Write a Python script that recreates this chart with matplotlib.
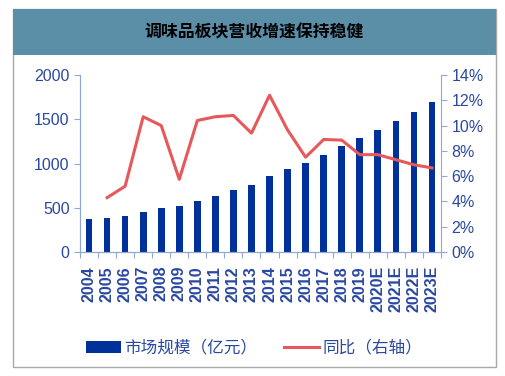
import matplotlib.pyplot as plt
import matplotlib.patches as mpatches
from matplotlib.ticker import FuncFormatter

plt.rcParams['font.family'] = ['Liberation Sans', 'Noto Sans CJK SC', 'DejaVu Sans']

anios = ['2004', '2005', '2006', '2007', '2008', '2009', '2010', '2011', '2012', '2013',
         '2014', '2015', '2016', '2017', '2018', '2019', '2020E', '2021E', '2022E', '2023E']
mercado = [370, 384, 407, 448, 493, 520, 573, 633, 697, 760,
           859, 941, 1009, 1096, 1194, 1285, 1382, 1484, 1582, 1692]
tasa = [None, 4.3, 5.2, 10.7, 10.0, 5.75, 10.4, 10.7, 10.8, 9.4,
        12.4, 9.65, 7.5, 8.9, 8.85, 7.7, 7.7, 7.3, 6.9, 6.65]

titulo = '调味品板块营收增速保持稳健'
etiqueta_barras = '市场规模（亿元）'
etiqueta_linea = '同比（右轴）'

color_barra = '#00309a'
color_linea = '#e8585a'
color_texto = '#2a48a2'
color_eje = '#8fa8d8'

W, H = 506, 376
fig = plt.figure(figsize=(W / 100, H / 100), dpi=100)

# marco y barra de titulo
fig.patches.append(mpatches.Rectangle((13 / W, 1 - 367 / H), 483 / W, 358 / H,
                                      transform=fig.transFigure, facecolor='white',
                                      edgecolor='#a8a8a8', linewidth=1, zorder=-2))
fig.patches.append(mpatches.Rectangle((13 / W, 1 - 55 / H), 483 / W, 46 / H,
                                      transform=fig.transFigure, facecolor='#5b8fa8',
                                      edgecolor='none', zorder=-1))
fig.text(254 / W, 1 - 33 / H, titulo, ha='center', va='center', fontsize=12.2,
         fontweight='bold', family=['Noto Sans CJK SC'], color='black')

ax = fig.add_axes([80 / W, 1 - 252 / H, 361 / W, 177 / H])
ax.patch.set_alpha(0)
x = list(range(len(anios)))
barras = ax.bar(x, mercado, width=0.37, color=color_barra, label=etiqueta_barras)
ax.set_xlim(-0.5, len(anios) - 0.5)
ax.set_ylim(0, 2000)
ax.set_yticks([0, 500, 1000, 1500, 2000])
ax.set_xticks([i - 0.5 for i in range(len(anios) + 1)], minor=False)
ax.set_xticklabels([''] * (len(anios) + 1))
ax.set_xticks(x, minor=True)
ax.set_xticklabels(anios, minor=True, rotation=90, fontsize=11.5, fontweight='bold',
                   color=color_texto)
ax.tick_params(axis='x', which='minor', length=0, pad=10)
ax.tick_params(axis='x', which='major', length=4, color=color_eje, direction='out')
ax.tick_params(axis='y', labelsize=11.5, labelcolor=color_texto, color=color_eje, length=4)

ax2 = ax.twinx()
xs = [i for i, v in enumerate(tasa) if v is not None]
ys = [v for v in tasa if v is not None]
linea, = ax2.plot(xs, ys, color=color_linea, linewidth=2.2, label=etiqueta_linea)
ax2.set_ylim(0, 14)
ax2.set_yticks(range(0, 15, 2))
ax2.yaxis.set_major_formatter(FuncFormatter(lambda v, p: f'{int(v)}%'))
ax2.tick_params(axis='y', labelsize=11.5, labelcolor=color_texto, color=color_eje, length=4)

for a in (ax, ax2):
    a.spines['top'].set_visible(False)
    for s in ('left', 'right', 'bottom'):
        a.spines[s].set_color(color_eje)
ax.spines['right'].set_visible(False)

leg = fig.legend(handles=[barras, linea], labels=[etiqueta_barras, etiqueta_linea],
                 loc='center', bbox_to_anchor=(254 / W, 1 - 348 / H), ncol=2,
                 frameon=False, handlelength=2.1, columnspacing=1.6,
                 handletextpad=0.2, prop={'family': ['Noto Sans CJK SC'], 'size': 12})
for t in leg.get_texts():
    t.set_color(color_texto)

fig.savefig('out.png', dpi=100)
